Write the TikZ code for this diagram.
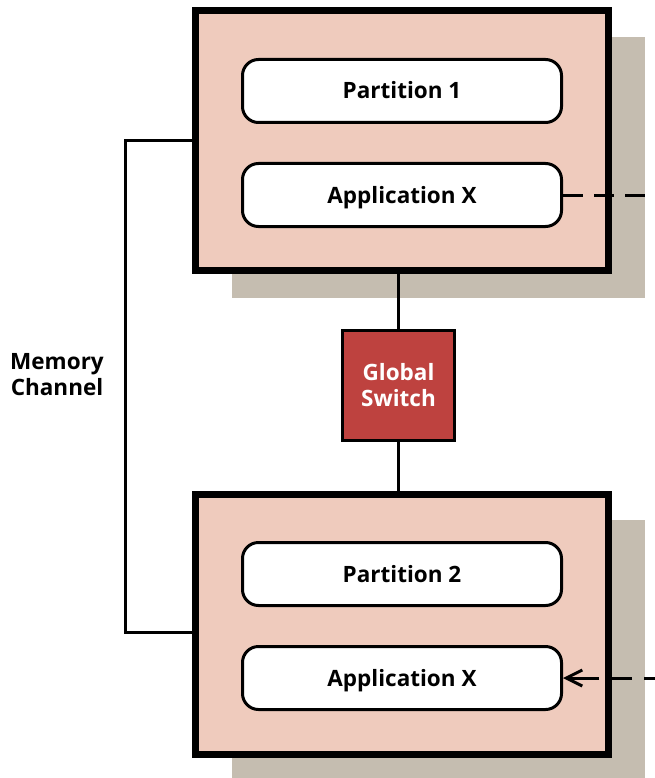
\documentclass[tikz,border=0pt]{standalone}
\usepackage{fontspec}
\setmainfont{Open Sans}
\usetikzlibrary{arrows.meta}
\begin{document}
\begin{tikzpicture}[x=1pt,y=-1pt,
  partbox/.style={shape=rectangle,draw,line width=7pt,fill=part_bg,minimum width=413pt,minimum height=260pt},
  shadowbox/.style={fill=part_shadow},
  itembox/.style={shape=rectangle,draw,line width=3pt,rounded corners=16pt,fill=white,minimum width=319pt,minimum height=63pt,text height=16pt,text depth=0pt,font=\fontsize{22.5}{26}\selectfont\bfseries},
  switchbox/.style={shape=rectangle,draw,line width=3.5pt,fill=switch_red,text=white,align=center,minimum width=112pt,minimum height=110pt,font=\fontsize{22.5}{26}\selectfont\bfseries},
  wire/.style={line width=3pt}]
\definecolor{part_bg}{RGB}{239,203,189}
\definecolor{part_shadow}{RGB}{197,189,176}
\definecolor{switch_red}{RGB}{190,66,63}
\useasboundingbox (0,0) rectangle (655,778);

\fill[shadowbox] (232,37) rectangle (645,298);
\fill[shadowbox] (232,520) rectangle (645,778);

\node[partbox] (box1) at (402,140.5) {};
\node[partbox] (box2) at (402,624.5) {};

\node[itembox] (part1) at (402,91) {Partition 1};
\node[itembox] (appx1) at (402,195) {Application X};
\node[itembox] (part2) at (402,574) {Partition 2};
\node[itembox] (appx2) at (402,678) {Application X};

\node[switchbox] (gswitch) at (398.5,385.5) {Global\\Switch};
\draw[wire] (gswitch.north) -- (gswitch.north |- box1.south);
\draw[wire] (gswitch.south) -- (gswitch.south |- box2.north);

\node[align=center,font=\fontsize{22.5}{26}\selectfont\bfseries] (memlbl) at (57,375) {Memory\\Channel};
\draw[wire] (box1.west) -| (125,400) |- (box2.west |- 0,632);

\coordinate (out1) at (655,195);
\coordinate (in2) at (655,678);
\draw[wire,dash pattern=on 20pt off 11pt] (appx1.east) -- (out1);
\draw[wire,-{Straight Barb[length=16pt,width=16pt]},dash pattern=on 11pt off 12pt on 20pt off 13pt on 100pt off 1pt] (in2) -- (appx2.east);
\end{tikzpicture}
\end{document}
